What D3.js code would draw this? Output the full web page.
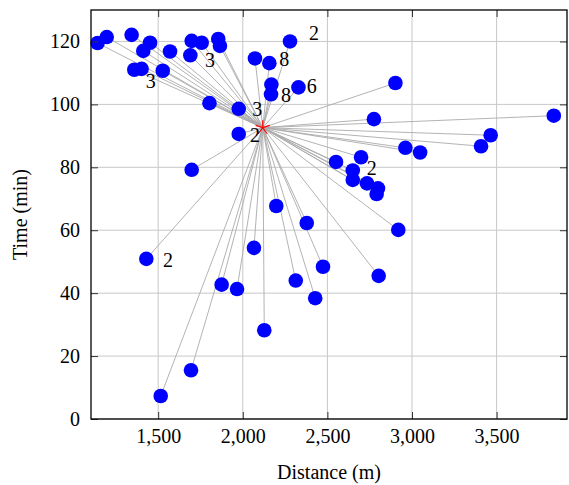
<!DOCTYPE html>
<html>
<head>
<meta charset="utf-8">
<script src="https://cdn.jsdelivr.net/npm/d3@7"></script>
<style>
  body { margin: 0; background: #fff; }
  text { font-family: "Liberation Serif", "DejaVu Serif", serif; }
</style>
</head>
<body>
<div id="chart"></div>
<script>
// depot (red star)
const depot = { distance: 2118, time: 92.6 };

// customer points: distance (m) and time (min)
const distances = [1142, 1196, 1343, 1452, 1412, 1570, 1698, 1757, 1855, 1865,
  1690, 2279, 2072, 2157, 1359, 1402, 1527, 2169, 2167, 2329,
  1803, 1976, 1976, 2902, 2775, 3838, 3465, 3408, 2961, 3048,
  1698, 2551, 2699, 2650, 2650, 2734, 2799, 2791, 2198, 2378,
  2919, 2066, 1430, 2474, 2803, 1875, 1966, 2313, 2428, 2127,
  1694, 1515];
const times = [119.5, 121.4, 122.1, 119.6, 117.0, 116.8, 120.2, 119.6, 120.8, 118.6,
  115.6, 120.0, 114.6, 113.1, 111.0, 111.3, 110.7, 106.3, 103.2, 105.4,
  100.4, 98.6, 90.6, 106.8, 95.3, 96.4, 90.2, 86.7, 86.2, 84.7,
  79.2, 81.7, 83.2, 79.0, 76.0, 74.9, 73.3, 71.5, 67.7, 62.3,
  60.1, 54.4, 50.9, 48.4, 45.5, 42.7, 41.3, 44.0, 38.4, 28.2,
  15.5, 7.3];

// count labels next to stacked points
const countLabels = ["2", "8", "6", "8", "3", "2", "3", "3", "2", "2"];
const labelDistances = [2421, 2245, 2407, 2255, 2086, 2072, 1806, 1456, 2762, 1558];
const labelTimes = [122.8, 114.4, 105.7, 103.0, 98.5, 90.3, 114.1, 107.3, 79.7, 50.6];

const xTicks = [1500, 2000, 2500, 3000, 3500];
const yTicks = [0, 20, 40, 60, 80, 100, 120];

const W = 569, H = 485;
const margin = { top: 10, right: 2, bottom: 66, left: 91 };

const svg = d3.select("#chart").append("svg")
    .attr("width", W)
    .attr("height", H);

const x = d3.scaleLinear().domain([1103, 3916]).range([margin.left, W - margin.right]);
const y = d3.scaleLinear().domain([0, 130]).range([H - margin.bottom, margin.top]);

const x0 = margin.left, x1 = W - margin.right;
const y0 = H - margin.bottom, y1 = margin.top;

// grid
svg.append("g")
    .selectAll("line")
    .data(xTicks)
    .join("line")
    .attr("x1", d => x(d)).attr("x2", d => x(d))
    .attr("y1", y0).attr("y2", y1)
    .attr("stroke", "#c8c8c8").attr("stroke-width", 1);

svg.append("g")
    .selectAll("line")
    .data(yTicks)
    .join("line")
    .attr("x1", x0).attr("x2", x1)
    .attr("y1", d => y(d)).attr("y2", d => y(d))
    .attr("stroke", "#c8c8c8").attr("stroke-width", 1);

// spokes from depot to every point
const pts = distances.map((d, i) => ({ d: d, t: times[i] }));

svg.append("g")
    .selectAll("line")
    .data(pts)
    .join("line")
    .attr("x1", x(depot.distance)).attr("y1", y(depot.time))
    .attr("x2", p => x(p.d)).attr("y2", p => y(p.t))
    .attr("stroke", "#aaaaaa").attr("stroke-width", 0.9);

// points
svg.append("g")
    .selectAll("circle")
    .data(pts)
    .join("circle")
    .attr("cx", p => x(p.d))
    .attr("cy", p => y(p.t))
    .attr("r", 7.3)
    .attr("fill", "#0000ff");

// depot star
const star = svg.append("g")
    .attr("transform", `translate(${x(depot.distance)},${y(depot.time)})`);
d3.range(5).forEach(k => {
  const a = -Math.PI / 2 + k * 2 * Math.PI / 5;
  star.append("line")
      .attr("x1", 0).attr("y1", 0)
      .attr("x2", 7.5 * Math.cos(a)).attr("y2", 7.5 * Math.sin(a))
      .attr("stroke", "#ff0000").attr("stroke-width", 1.2);
});

// count labels
svg.append("g")
    .selectAll("text")
    .data(countLabels)
    .join("text")
    .attr("x", (s, i) => x(labelDistances[i]))
    .attr("y", (s, i) => y(labelTimes[i]))
    .attr("text-anchor", "middle")
    .attr("dominant-baseline", "central")
    .style("font-size", "20px")
    .text(s => s);

// axes frame with inward ticks
const fmt = d3.format(",");
svg.append("g")
    .attr("transform", `translate(0,${y0})`)
    .call(d3.axisBottom(x).tickValues(xTicks).tickFormat(fmt).tickSizeInner(-7).tickSizeOuter(0).tickPadding(10))
    .call(g => g.select(".domain").remove())
    .call(g => g.selectAll(".tick line").attr("stroke", "#333"))
    .call(g => g.selectAll("text").style("font-size", "20px").attr("fill", "#000"));

svg.append("g")
    .attr("transform", `translate(0,${y1})`)
    .call(d3.axisTop(x).tickValues(xTicks).tickFormat("").tickSizeInner(-7).tickSizeOuter(0))
    .call(g => g.select(".domain").remove())
    .call(g => g.selectAll(".tick line").attr("stroke", "#333"));

svg.append("g")
    .attr("transform", `translate(${x0},0)`)
    .call(d3.axisLeft(y).tickValues(yTicks).tickSizeInner(-7).tickSizeOuter(0).tickPadding(11))
    .call(g => g.select(".domain").remove())
    .call(g => g.selectAll(".tick line").attr("stroke", "#333"))
    .call(g => g.selectAll("text").style("font-size", "20px").attr("fill", "#000"));

svg.append("g")
    .attr("transform", `translate(${x1},0)`)
    .call(d3.axisRight(y).tickValues(yTicks).tickFormat("").tickSizeInner(-7).tickSizeOuter(0))
    .call(g => g.select(".domain").remove())
    .call(g => g.selectAll(".tick line").attr("stroke", "#333"));

svg.append("rect")
    .attr("x", x0).attr("y", y1)
    .attr("width", x1 - x0).attr("height", y0 - y1)
    .attr("fill", "none").attr("stroke", "#000").attr("stroke-width", 1.3);

// axis titles
svg.append("text")
    .attr("x", (x0 + x1) / 2)
    .attr("y", 479)
    .attr("text-anchor", "middle")
    .style("font-size", "20px")
    .text("Distance (m)");

svg.append("text")
    .attr("transform", `translate(20,${(y0 + y1) / 2}) rotate(-90)`)
    .attr("text-anchor", "middle")
    .attr("dominant-baseline", "central")
    .style("font-size", "20px")
    .text("Time (min)");
</script>
</body>
</html>
